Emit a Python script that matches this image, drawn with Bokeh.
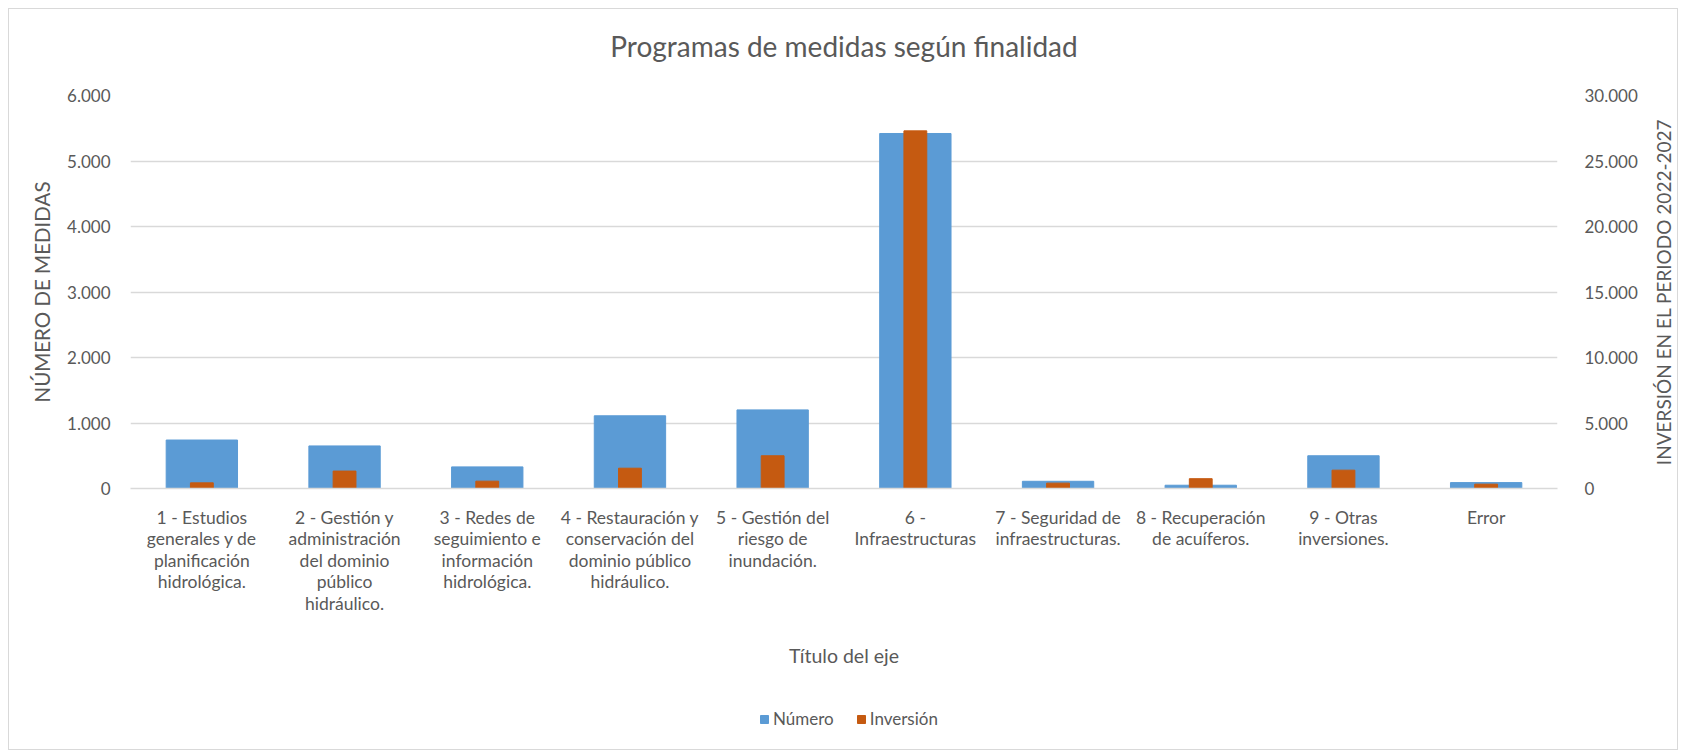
import math
from bokeh.plotting import figure
from bokeh.models import Range1d, LinearAxis, FactorRange, FixedTicker, Legend, LegendItem, Title
from bokeh.layouts import column, row
from bokeh.core.properties import value
from bokeh.embed import file_html
from bokeh.resources import INLINE

categories = [
    "1 - Estudios\ngenerales y de\nplanificación\nhidrológica.",
    "2 - Gestión y\nadministración\ndel dominio\npúblico\nhidráulico.",
    "3 - Redes de\nseguimiento e\ninformación\nhidrológica.",
    "4 - Restauración y\nconservación del\ndominio público\nhidráulico.",
    "5 - Gestión del\nriesgo de\ninundación.",
    "6 -\nInfraestructuras",
    "7 - Seguridad de\ninfraestructuras.",
    "8 - Recuperación\nde acuíferos.",
    "9 - Otras\ninversiones.",
    "Error",
]
numero = [740, 650, 330, 1110, 1200, 5420, 110, 50, 500, 90]
inversion = [430, 1330, 560, 1550, 2500, 27300, 410, 750, 1400, 330]
series_names = ["Número", "Inversión"]

left_ticks = [0, 1000, 2000, 3000, 4000, 5000, 6000]
left_labels = ["0", "1.000", "2.000", "3.000", "4.000", "5.000", "6.000"]
right_ticks = [0, 5000, 10000, 15000, 20000, 25000, 30000]
right_labels = ["0", "5.000", "10.000", "15.000", "20.000", "25.000", "30.000"]
right_title = "INVERSIÓN EN EL PERIODO 2022-2027"

FONT = "Lato"
TXT = "#595959"
GRID = "#D9D9D9"
BLUE = "#5B9BD5"
ORANGE = "#C55A11"
W = 1668
RW = 36          # strip holding the right axis title
H = 680

p = figure(
    x_range=FactorRange(*categories),
    y_range=Range1d(0, 6000),
    width=W - RW, height=H,
    output_backend="svg", toolbar_location=None,
    title_location=None,
    min_border_left=121, min_border_right=120 - RW,
    min_border_top=86, min_border_bottom=201,
)
p.outline_line_color = None
p.background_fill_color = "white"
p.border_fill_color = "white"

p.extra_y_ranges = {"inv": Range1d(0, 30000)}

r1 = p.vbar(x=categories, top=numero, width=0.5, color=BLUE)
r2 = p.vbar(x=categories, top=inversion, width=0.16, color=ORANGE, y_range_name="inv")

# title (spacer first = closest to the frame)
p.add_layout(Title(text=" ", text_font=FONT, text_font_size="13px"), "above")
p.add_layout(Title(text="Programas de medidas según finalidad", align="center",
                   text_font=FONT, text_font_size="28px", text_font_style="normal",
                   text_color=TXT), "above")

# grids
p.xgrid.grid_line_color = None
p.ygrid.ticker = FixedTicker(ticks=left_ticks)
p.ygrid.grid_line_color = GRID
p.ygrid.grid_line_width = 1.5

# left axis
ya = p.yaxis[0]
ya.ticker = FixedTicker(ticks=left_ticks)
ya.major_label_overrides = {t: l for t, l in zip(left_ticks, left_labels)}
ya.axis_line_color = None
ya.major_tick_line_color = None
ya.minor_tick_line_color = None
ya.major_label_standoff = 14
ya.major_label_text_font = FONT
ya.major_label_text_font_size = "17px"
ya.major_label_text_color = TXT
ya.axis_label = "NÚMERO DE MEDIDAS"
ya.axis_label_text_font = FONT
ya.axis_label_text_font_size = "20.5px"
ya.axis_label_text_font_style = "normal"
ya.axis_label_text_color = TXT
ya.axis_label_standoff = 10

# right axis (its title is drawn in the strip to the right)
ra = LinearAxis(y_range_name="inv")
ra.ticker = FixedTicker(ticks=right_ticks)
ra.major_label_overrides = {t: l for t, l in zip(right_ticks, right_labels)}
ra.axis_line_color = None
ra.major_tick_line_color = None
ra.minor_tick_line_color = None
ra.major_label_standoff = 21
ra.major_label_text_font = FONT
ra.major_label_text_font_size = "17px"
ra.major_label_text_color = TXT
p.add_layout(ra, "right")

# x axis
xa = p.xaxis[0]
xa.axis_line_color = GRID
xa.axis_line_width = 1.5
xa.major_tick_line_color = None
xa.minor_tick_line_color = None
xa.major_label_standoff = 12
xa.major_label_text_font = FONT
xa.major_label_text_font_size = "17.5px"
xa.major_label_text_color = TXT
xa.major_label_text_line_height = 1.03
xa.axis_label = "Título del eje"
xa.axis_label_text_font = FONT
xa.axis_label_text_font_size = "19.5px"
xa.axis_label_text_font_style = "normal"
xa.axis_label_text_color = TXT
xa.axis_label_standoff = 27

# right strip: secondary axis title, reading bottom to top
# (its frame is aligned with the main frame by the row layout)
rf = figure(width=RW, height=H, output_backend="svg", toolbar_location=None,
            x_range=Range1d(0, RW), y_range=Range1d(0, 1),
            x_axis_location=None, y_axis_location=None,
            min_border=0, title_location=None)
rf.grid.visible = False
rf.outline_line_color = None
rf.border_fill_color = "white"
rf.background_fill_color = "white"
rf.text(x=[22], y=[0.5], text=[right_title], angle=math.pi / 2,
        text_align="center", text_baseline="middle",
        text_font=value(FONT), text_font_size="19px", text_color=TXT)

# legend strip below the chart (proxy glyphs sit outside the visible range)
lg = figure(width=W, height=60, output_backend="svg", toolbar_location=None,
            x_range=Range1d(0, 1), y_range=Range1d(0, 1),
            x_axis_location=None, y_axis_location=None,
            min_border=0, title_location=None)
lg.grid.visible = False
lg.outline_line_color = None
lg.border_fill_color = "white"
lg.background_fill_color = "white"
lr1 = lg.vbar(x=[-5], top=[-4], bottom=[-5], width=0.5, color=BLUE)
lr2 = lg.vbar(x=[-5], top=[-4], bottom=[-5], width=0.5, color=ORANGE)
legend = Legend(
    items=[LegendItem(label=series_names[0], renderers=[lr1]),
           LegendItem(label=series_names[1], renderers=[lr2])],
    orientation="horizontal",
    location=(750, 20),
    border_line_color=None,
    background_fill_alpha=0,
    label_text_font=FONT,
    label_text_font_size="17px",
    label_text_color=TXT,
    glyph_width=10, glyph_height=10,
    label_standoff=4, spacing=22,
    padding=0, margin=0,
)
lg.add_layout(legend, "center")

layout = column(row(p, rf, spacing=0), lg, spacing=0, margin=(8, 0, 0, 8),
                styles={"border": "1px solid #D9D9D9", "background": "white"})

open("out.html", "w").write(file_html(layout, INLINE))
